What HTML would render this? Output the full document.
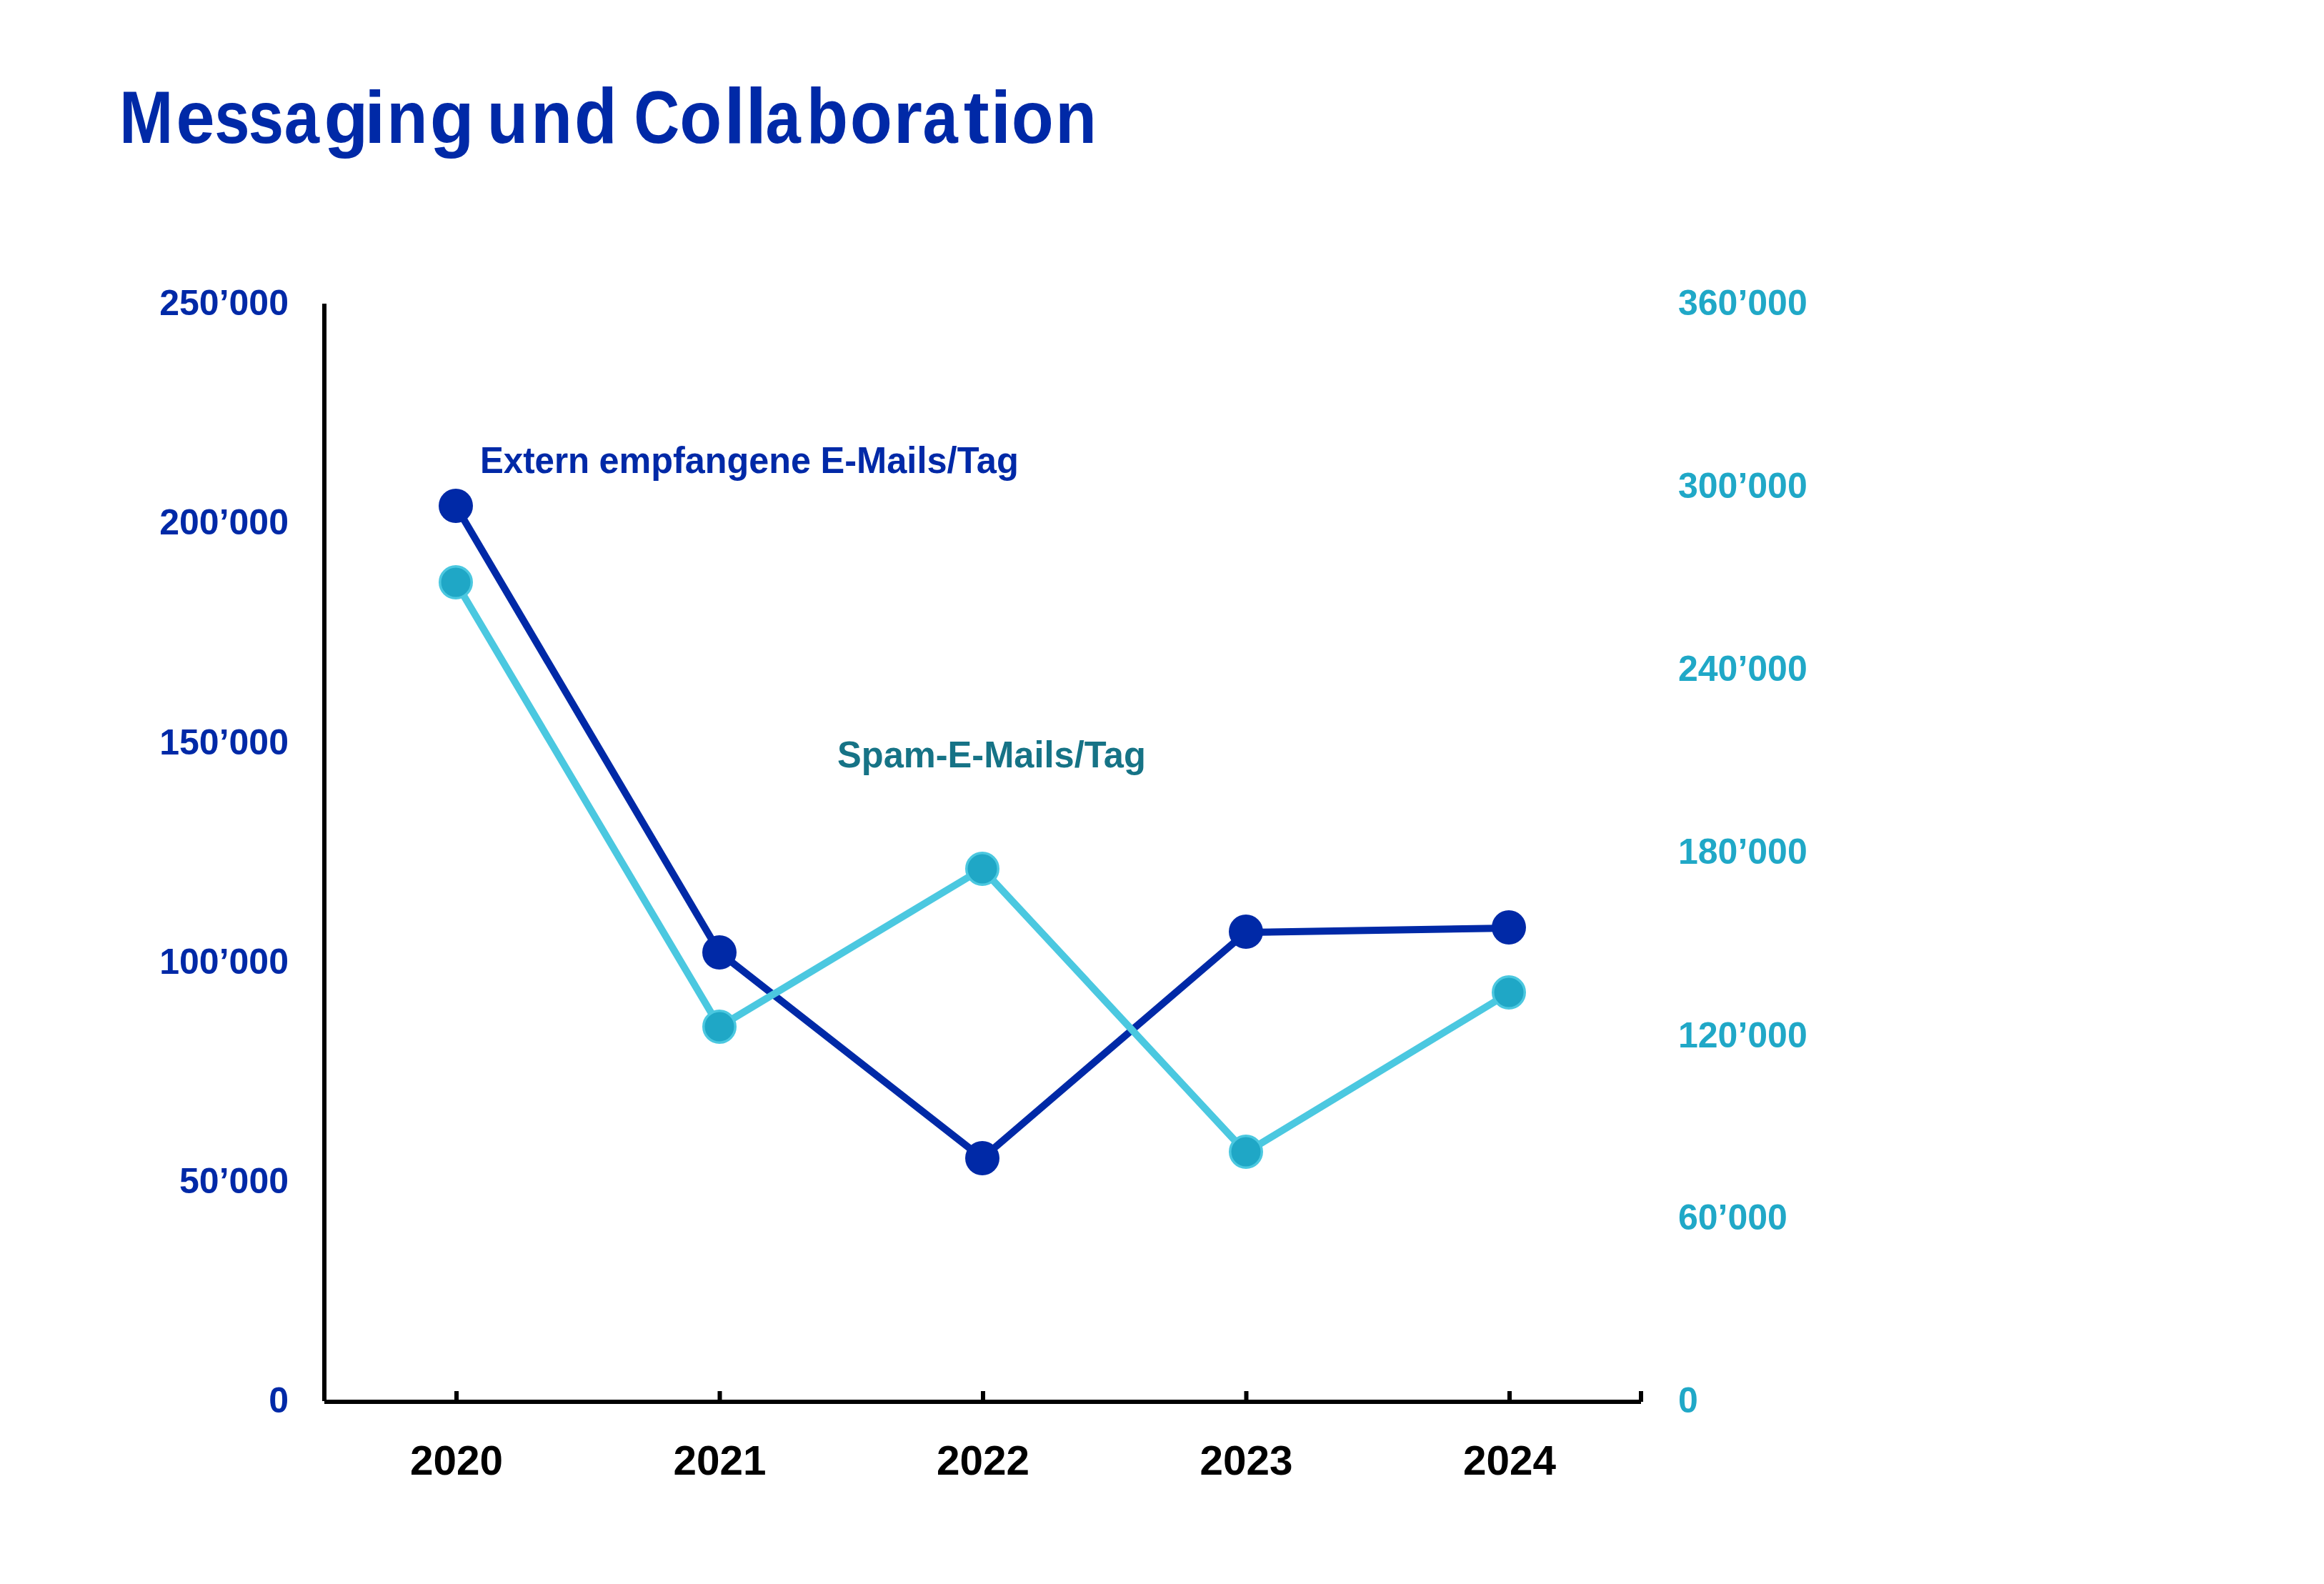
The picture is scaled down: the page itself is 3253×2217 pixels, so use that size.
<!DOCTYPE html>
<html>
<head>
<meta charset="utf-8">
<style>
html,body{margin:0;padding:0;background:#fff;}
body{width:3253px;height:2217px;overflow:hidden;position:relative;}
svg{position:absolute;left:0;top:0;}
text{font-family:"Liberation Sans", sans-serif;font-weight:bold;}
</style>
</head>
<body>
<svg width="3253" height="2217" viewBox="0 0 3253 2217">
  <rect x="0" y="0" width="3253" height="2217" fill="#fff"/>
  <!-- title -->
  <g font-size="103" fill="#0029A7">
    <text x="167.05" y="200" textLength="75.35" lengthAdjust="spacingAndGlyphs">M</text>
    <text x="246.6" y="200" textLength="54.09" lengthAdjust="spacingAndGlyphs">e</text>
    <text x="300.25" y="200" textLength="49.28" lengthAdjust="spacingAndGlyphs">s</text>
    <text x="347.65" y="200" textLength="49.28" lengthAdjust="spacingAndGlyphs">s</text>
    <text x="397.7" y="200" textLength="49.28" lengthAdjust="spacingAndGlyphs">a</text>
    <text x="453.6" y="200" textLength="61.95" lengthAdjust="spacingAndGlyphs">g</text>
    <text x="510.05" y="200" textLength="29.58" lengthAdjust="spacingAndGlyphs">i</text>
    <text x="541.15" y="200" textLength="57.37" lengthAdjust="spacingAndGlyphs">n</text>
    <text x="601.8" y="200" textLength="61.95" lengthAdjust="spacingAndGlyphs">g</text>
    <text x="681.7" y="200" textLength="57.38" lengthAdjust="spacingAndGlyphs">u</text>
    <text x="743.3" y="200" textLength="57.74" lengthAdjust="spacingAndGlyphs">n</text>
    <text transform="translate(0 200) scale(1 1.057) translate(0 -200)" x="804.0" y="200" textLength="59.78" lengthAdjust="spacingAndGlyphs">d</text>
    <text x="887.2" y="200" textLength="63.98" lengthAdjust="spacingAndGlyphs">C</text>
    <text x="951.2" y="200" textLength="59.03" lengthAdjust="spacingAndGlyphs">o</text>
    <text transform="translate(0 200) scale(1 1.057) translate(0 -200)" x="1013.25" y="200" textLength="30.06" lengthAdjust="spacingAndGlyphs">l</text>
    <text transform="translate(0 200) scale(1 1.057) translate(0 -200)" x="1043.15" y="200" textLength="30.06" lengthAdjust="spacingAndGlyphs">l</text>
    <text x="1071.5" y="200" textLength="49.28" lengthAdjust="spacingAndGlyphs">a</text>
    <text transform="translate(0 200) scale(1 1.057) translate(0 -200)" x="1128.85" y="200" textLength="58.29" lengthAdjust="spacingAndGlyphs">b</text>
    <text x="1189.65" y="200" textLength="59.15" lengthAdjust="spacingAndGlyphs">o</text>
    <text x="1250.45" y="200" textLength="40.46" lengthAdjust="spacingAndGlyphs">r</text>
    <text x="1291.5" y="200" textLength="49.28" lengthAdjust="spacingAndGlyphs">a</text>
    <text x="1348.8" y="200" textLength="36.03" lengthAdjust="spacingAndGlyphs">t</text>
    <text x="1386.45" y="200" textLength="28.82" lengthAdjust="spacingAndGlyphs">i</text>
    <text x="1415.7" y="200" textLength="59.03" lengthAdjust="spacingAndGlyphs">o</text>
    <text x="1477.3" y="200" textLength="57.74" lengthAdjust="spacingAndGlyphs">n</text>
  </g>

  <!-- axes -->
  <rect x="451" y="425" width="6" height="1536" fill="#000"/>
  <rect x="454" y="1959" width="1843" height="6" fill="#000"/>
  <rect x="2294" y="1947" width="6" height="15" fill="#000"/>
  <rect x="636" y="1947" width="6" height="12" fill="#000"/>
  <rect x="1004.5" y="1947" width="6" height="12" fill="#000"/>
  <rect x="1373" y="1947" width="6" height="12" fill="#000"/>
  <rect x="1741.5" y="1947" width="6" height="12" fill="#000"/>
  <rect x="2110" y="1947" width="6" height="12" fill="#000"/>

  <!-- left axis labels -->
  <g fill="#0029A7" font-size="50" text-anchor="end">
    <text x="404" y="441">250’000</text>
    <text x="404" y="748">200’000</text>
    <text x="404" y="1056">150’000</text>
    <text x="404" y="1363">100’000</text>
    <text x="404" y="1670">50’000</text>
    <text x="404" y="1977">0</text>
  </g>
  <!-- right axis labels -->
  <g fill="#20A8C7" font-size="50">
    <text x="2349" y="441">360’000</text>
    <text x="2349" y="697">300’000</text>
    <text x="2349" y="953">240’000</text>
    <text x="2349" y="1209">180’000</text>
    <text x="2349" y="1466">120’000</text>
    <text x="2349" y="1721">60’000</text>
    <text x="2349" y="1977">0</text>
  </g>
  <!-- x labels -->
  <g fill="#000" font-size="57" text-anchor="middle">
    <text x="639" y="2064" textLength="130" lengthAdjust="spacingAndGlyphs">2020</text>
    <text x="1007.5" y="2064" textLength="130" lengthAdjust="spacingAndGlyphs">2021</text>
    <text x="1376" y="2064" textLength="130" lengthAdjust="spacingAndGlyphs">2022</text>
    <text x="1744.5" y="2064" textLength="130" lengthAdjust="spacingAndGlyphs">2023</text>
    <text x="2113" y="2064" textLength="130" lengthAdjust="spacingAndGlyphs">2024</text>
  </g>

  <!-- blue series -->
  <polyline points="638,708 1007,1333 1375,1621 1744,1305 2112,1299" fill="none" stroke="#0029A7" stroke-width="10" stroke-linejoin="miter"/>
  <g fill="#0029A7">
    <circle cx="638" cy="708" r="24"/>
    <circle cx="1007" cy="1333" r="24"/>
    <circle cx="1375" cy="1621" r="24"/>
    <circle cx="1744" cy="1304" r="24"/>
    <circle cx="2112" cy="1298" r="24"/>
  </g>
  <!-- cyan series -->
  <polyline points="638,815 1007,1437 1375,1216 1744,1613 2112,1390" fill="none" stroke="#4BC8E0" stroke-width="10"/>
  <g fill="#1FA7C6" stroke="#4BC8E0" stroke-width="3.5">
    <circle cx="638" cy="815" r="22.25"/>
    <circle cx="1007" cy="1437" r="22.25"/>
    <circle cx="1375" cy="1216" r="22.25"/>
    <circle cx="1744" cy="1612" r="22.25"/>
    <circle cx="2112" cy="1389" r="22.25"/>
  </g>

  <!-- series labels -->
  <g font-size="52" fill="#0029A7">
    <text x="672" y="662" textLength="153.13" lengthAdjust="spacingAndGlyphs">Extern</text>
    <text x="838.5" y="662" textLength="296.39" lengthAdjust="spacingAndGlyphs">empfangene</text>
    <text x="1148.5" y="662" textLength="277.33" lengthAdjust="spacingAndGlyphs">E-Mails/Tag</text>
  </g>
  <text x="1172" y="1074" font-size="52" fill="#167386" textLength="431.88" lengthAdjust="spacingAndGlyphs">Spam-E-Mails/Tag</text>
</svg>
</body>
</html>
